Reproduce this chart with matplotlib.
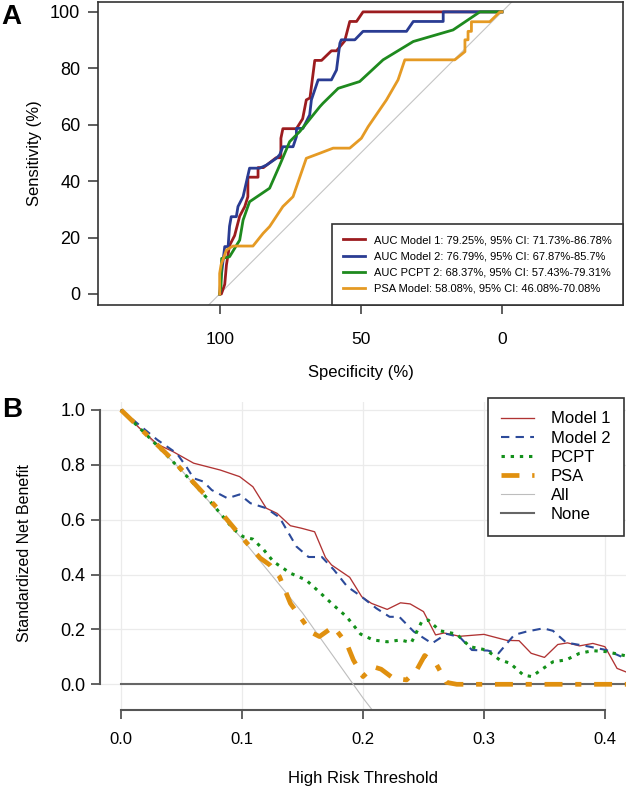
import matplotlib.pyplot as plt

plt.rcParams['font.family'] = ['Liberation Sans', 'DejaVu Sans']

# ---- panel A: ROC curves (specificity %, sensitivity %) ----
roc_labels = [
    "AUC Model 1: 79.25%, 95% CI: 71.73%-86.78%",
    "AUC Model 2: 76.79%, 95% CI: 67.87%-85.7%",
    "AUC PCPT 2: 68.37%, 95% CI: 57.43%-79.31%",
    "PSA Model: 58.08%, 95% CI: 46.08%-70.08%",
]
roc_colors = ["#9c1c1f", "#2a3c93", "#1e8a1e", "#e59a24"]

m1_spec = [100, 99.4, 98.2, 97.6, 96.5, 94.7, 92.9, 91.1, 90.0, 90.0,
           86.4, 86.4, 84.5, 80.0, 78.3, 78.3, 77.6, 72.8, 70.6, 69.3,
           68.0, 66.3, 63.9, 60.4, 58.6, 55.7, 53.9, 51.5, 49.2, 0]
m1_sens = [0, 0, 3.4, 10.3, 17.2, 20.7, 27.6, 31.0, 34.5, 41.4,
           41.4, 44.8, 44.8, 48.3, 48.3, 55.2, 58.6, 58.6, 62.1, 68.8,
           69.5, 82.8, 82.8, 86.2, 86.2, 89.7, 96.6, 96.6, 100, 100]

m2_spec = [100, 99.6, 98.2, 97.0, 96.5, 95.9, 94.1, 93.5, 91.7, 89.4,
           85.8, 83.4, 79.9, 78.7, 77.6, 74.0, 72.8, 72.8, 70.5, 68.1,
           67.5, 65.1, 60.4, 58.6, 57.4, 56.9, 52.1, 49.2, 33.8, 31.4,
           20.8, 20.8, 0]
m2_sens = [0, 5.0, 16.8, 16.8, 24.0, 27.4, 27.4, 31.0, 34.5, 44.6,
           44.6, 45.7, 48.1, 49.4, 52.2, 52.2, 55.8, 58.7, 58.7, 63.5,
           68.8, 75.9, 75.9, 79.4, 88.9, 90.1, 90.1, 93.1, 93.1, 96.6,
           96.6, 100, 100]

pcpt_spec = [100, 99.5, 99.3, 96.5, 92.9, 91.7, 89.4, 82.3, 78.7, 75.2,
             71.6, 64.5, 63.4, 58.0, 50.4, 42.1, 31.4, 17.3, 7.8, 2.0, 0]
pcpt_sens = [0, 3.0, 12.6, 13.2, 19.1, 26.2, 32.7, 37.5, 45.7, 54.0,
             57.6, 66.4, 67.6, 72.9, 75.3, 83.0, 89.5, 93.6, 100, 100, 100]

psa_spec = [100, 100, 99.5, 97.6, 95.3, 88.2, 84.6, 82.3, 77.6, 74.0,
            69.3, 64.5, 59.8, 53.9, 49.8, 47.4, 40.9, 36.8, 34.4, 16.7,
            13.1, 13.1, 12.0, 12.0, 10.8, 10.8, 4.3, 0.7, 0]
psa_sens = [0, 7.3, 10.3, 15.6, 17.0, 17.0, 21.5, 23.9, 31.0, 34.5,
            48.1, 49.9, 51.7, 51.7, 55.2, 59.3, 68.8, 75.9, 83.0, 83.0,
            85.9, 90.1, 90.1, 93.1, 93.1, 96.5, 96.5, 100, 100]

# ---- panel B: decision curves (threshold, standardized net benefit) ----
dca_labels = ["Model 1", "Model 2", "PCPT", "PSA", "All", "None"]

dm1_t = [0, 0.015, 0.03, 0.043, 0.06, 0.082, 0.098, 0.109, 0.12, 0.129,
         0.14, 0.149, 0.16, 0.169, 0.174, 0.189, 0.199, 0.207, 0.22, 0.231,
         0.239, 0.25, 0.26, 0.267, 0.28, 0.30, 0.319, 0.329, 0.339, 0.35,
         0.361, 0.369, 0.379, 0.39, 0.40, 0.41, 0.418]
dm1_nb = [1.0, 0.935, 0.875, 0.848, 0.806, 0.781, 0.757, 0.72, 0.642, 0.623,
          0.578, 0.569, 0.556, 0.462, 0.435, 0.39, 0.319, 0.295, 0.273, 0.297,
          0.293, 0.265, 0.18, 0.187, 0.175, 0.182, 0.16, 0.159, 0.113, 0.098,
          0.145, 0.151, 0.14, 0.149, 0.137, 0.058, 0.044]

dm2_t = [0, 0.03, 0.046, 0.054, 0.06, 0.068, 0.075, 0.088, 0.098, 0.107,
         0.12, 0.131, 0.137, 0.145, 0.155, 0.166, 0.176, 0.187, 0.198, 0.211,
         0.222, 0.23, 0.242, 0.257, 0.269, 0.28, 0.29, 0.303, 0.312, 0.325,
         0.335, 0.349, 0.357, 0.368, 0.385, 0.401, 0.415]
dm2_nb = [1.0, 0.891, 0.842, 0.793, 0.751, 0.739, 0.708, 0.678, 0.692, 0.66,
          0.642, 0.608, 0.5625, 0.502, 0.464, 0.464, 0.417, 0.356, 0.322, 0.277,
          0.246, 0.246, 0.192, 0.149, 0.184, 0.172, 0.125, 0.123, 0.113, 0.18,
          0.192, 0.204, 0.195, 0.152, 0.139, 0.125, 0.098]

dpcpt_t = [0, 0.02, 0.04, 0.057, 0.075, 0.093, 0.101, 0.109, 0.118, 0.126,
           0.14, 0.153, 0.162, 0.1755, 0.1865, 0.198, 0.2085, 0.22, 0.231, 0.24,
           0.2485, 0.254, 0.2636, 0.2774, 0.2884, 0.302, 0.313, 0.3215, 0.3325,
           0.3394, 0.349, 0.357, 0.368, 0.379, 0.39, 0.401, 0.418]
dpcpt_nb = [1.0, 0.914, 0.825, 0.746, 0.66, 0.565, 0.538, 0.529, 0.49, 0.447,
            0.405, 0.38, 0.344, 0.289, 0.246, 0.183, 0.1615, 0.155, 0.1615, 0.152,
            0.228, 0.234, 0.195, 0.183, 0.137, 0.125, 0.089, 0.077, 0.034,
            0.028, 0.058, 0.082, 0.089, 0.113, 0.1225, 0.119, 0.103]

dpsa_t = [0, 0.02, 0.04, 0.06, 0.08, 0.1, 0.115, 0.123, 0.131, 0.14,
          0.148, 0.157, 0.164, 0.1755, 0.1865, 0.192, 0.2, 0.2085, 0.215, 0.225,
          0.236, 0.2444, 0.251, 0.261, 0.269, 0.2775, 0.418]
dpsa_nb = [1.0, 0.915, 0.83, 0.735, 0.64, 0.535, 0.46, 0.435, 0.392, 0.295,
           0.246, 0.19, 0.174, 0.21, 0.149, 0.089, 0.028, 0.064, 0.055, 0.022,
           0.016, 0.052, 0.105, 0.07, 0.007, 0.0, 0.0]

all_t = [0, 0.05, 0.10, 0.15, 0.20, 0.207]
all_nb = [1.0, 0.78, 0.53, 0.26, -0.05, -0.09]

none_t = [0, 0.418]
none_nb = [0, 0]

W, H = 630, 791


def box(left, top, right, bottom):
    return [left / W, 1 - bottom / H, (right - left) / W, (bottom - top) / H]


def ftext(x, y, s, **kw):
    fig.text(x / W, 1 - y / H, s, ha="center", va="center", **kw)


fig = plt.figure(figsize=(W / 100, H / 100), dpi=100)

# panel A
axA = fig.add_axes(box(98, 2, 623, 305))
axA.axline((100, 0), (0, 100), color="#c4c4c4", lw=0.8, zorder=1)
for xs, ys, c, lab in zip([m1_spec, m2_spec, pcpt_spec, psa_spec],
                          [m1_sens, m2_sens, pcpt_sens, psa_sens],
                          roc_colors, roc_labels):
    axA.plot(xs, ys, color=c, lw=2.0, label=lab)
axA.set_xlim(143.1, -42.9)
axA.set_ylim(-3.9, 103.5)
axA.set_xticks([100, 50, 0])
axA.set_yticks([0, 20, 40, 60, 80, 100])
axA.tick_params(axis="y", length=7.2, width=1.1, color="#333333", pad=5.5, labelsize=13)
axA.tick_params(axis="x", length=6.5, width=1.1, color="#333333", pad=13, labelsize=12.5)
for sp in axA.spines.values():
    sp.set_color("#333333")
    sp.set_linewidth(1.2)
legA = axA.legend(loc="lower right", bbox_to_anchor=(1, 0), borderaxespad=0,
                  fontsize=8.0, handlelength=2.0, handletextpad=0.8,
                  labelspacing=0.56, borderpad=1.0, fancybox=False,
                  edgecolor="#333333", framealpha=1)
legA.get_frame().set_linewidth(1.2)

ftext(11, 17, "A", fontsize=20, fontweight="bold")
ftext(35, 153, "Sensitivity (%)", fontsize=12, rotation=90)
ftext(361, 372, "Specificity (%)", fontsize=12)

# panel B
axB = fig.add_axes(box(100, 402, 626, 710))
axB.grid(color="#ebebeb", lw=0.9)
axB.set_axisbelow(True)
axB.plot(none_t, none_nb, color="#666666", lw=1.5, label=dca_labels[5], zorder=2)
axB.plot(all_t, all_nb, color="#bdbdbd", lw=0.8, label=dca_labels[4], zorder=2)
axB.plot(dm1_t, dm1_nb, color="#b03333", lw=0.95, label=dca_labels[0], zorder=3)
axB.plot(dm2_t, dm2_nb, color="#2c4a9a", lw=1.5, ls=(0, (4, 3)), label=dca_labels[1], zorder=3)
axB.plot(dpcpt_t, dpcpt_nb, color="#13901a", lw=2.2, ls=(0, (1.1, 1.9)), label=dca_labels[2], zorder=3)
axB.plot(dpsa_t, dpsa_nb, color="#e0900f", lw=3.4, ls=(0, (3.8, 2.7, 1.3, 2.7)),
         dash_capstyle="butt", label=dca_labels[3], zorder=4)
axB.set_xlim(-0.0174, 0.4174)
axB.set_ylim(-0.0937, 1.029)
axB.set_xticks([0, 0.1, 0.2, 0.3, 0.4])
axB.set_yticks([0, 0.2, 0.4, 0.6, 0.8, 1.0])
axB.set_xticklabels(["0.0", "0.1", "0.2", "0.3", "0.4"])
axB.set_yticklabels(["0.0", "0.2", "0.4", "0.6", "0.8", "1.0"])
axB.spines["top"].set_visible(False)
axB.spines["right"].set_visible(False)
axB.spines["left"].set_bounds(0, 1)
axB.spines["bottom"].set_bounds(0, 0.4)
for s in ["left", "bottom"]:
    axB.spines[s].set_color("#555555")
    axB.spines[s].set_linewidth(1.5)
axB.tick_params(axis="y", length=6.5, width=1.3, color="#555555", pad=4, labelsize=13)
axB.tick_params(axis="x", length=6.5, width=1.3, color="#555555", pad=9, labelsize=12)

handles, labels = axB.get_legend_handles_labels()
order = [labels.index(l) for l in dca_labels]
legB = axB.legend([handles[i] for i in order], [labels[i] for i in order],
                  loc="upper right", bbox_to_anchor=(524 / 526, 312 / 308),
                  borderaxespad=0, fontsize=12, handlelength=2.0,
                  handletextpad=1.0, labelspacing=0.25, borderpad=0.8,
                  fancybox=False, edgecolor="#333333", framealpha=1)
legB.get_frame().set_linewidth(1.2)

ftext(12, 410, "B", fontsize=20, fontweight="bold")
ftext(25, 553, "Standardized Net Benefit", fontsize=11.5, rotation=90)
ftext(363, 778, "High Risk Threshold", fontsize=12)

fig.savefig("out.png", dpi=100)
